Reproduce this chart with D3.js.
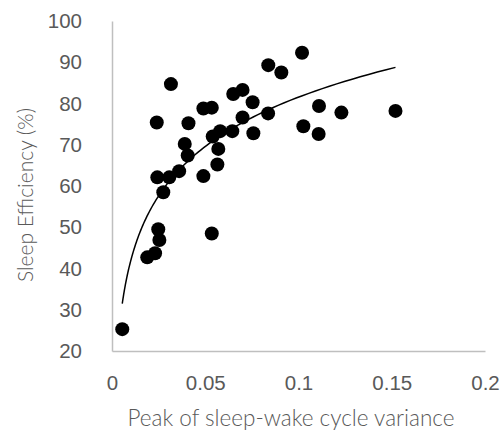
<!DOCTYPE html>
<html>
<head>
<meta charset="utf-8">
<script src="https://cdn.jsdelivr.net/npm/d3@7"></script>
<style>
  body { margin: 0; background: #fff; }
  svg { display: block; }
</style>
</head>
<body>
<div id="chart"></div>
<script>
// data
const variance = [0.0055, 0.0189, 0.0231, 0.0254, 0.0248, 0.0535, 0.0275, 0.0243, 0.0307, 0.036,
                  0.049, 0.0565, 0.0406, 0.039, 0.057, 0.054, 0.058, 0.0645, 0.0758, 0.070,
                  0.0837, 0.024, 0.041, 0.049, 0.0535, 0.0754, 0.065, 0.070, 0.0316, 0.0838,
                  0.0908, 0.1019, 0.1026, 0.1108, 0.111, 0.123, 0.152];
const efficiency = [25.3, 42.7, 43.7, 46.9, 49.5, 48.5, 58.5, 62.1, 62.1, 63.6,
                    62.4, 65.2, 67.4, 70.2, 69.0, 72.0, 73.3, 73.3, 72.8, 76.6,
                    77.6, 75.4, 75.2, 78.8, 79.0, 80.3, 82.3, 83.3, 84.7, 89.3,
                    87.5, 92.3, 74.5, 72.6, 79.4, 77.8, 78.2];
const xTicks = [0, 0.05, 0.1, 0.15, 0.2];
const yTicks = [20, 30, 40, 50, 60, 70, 80, 90, 100];

const width = 501, height = 431;
const margin = {top: 21, right: 16, bottom: 80, left: 112};

const svg = d3.select('#chart')
  .append('svg')
  .attr('width', width)
  .attr('height', height);

// scales
const x = d3.scaleLinear().domain([0, 0.2]).range([margin.left, width - margin.right]);
const y = d3.scaleLinear().domain([20, 100]).range([height - margin.bottom, margin.top]);

// axes - no tick marks, grey lines
const xAxis = svg.append('g')
  .attr('transform', `translate(0,${y(20)})`)
  .call(d3.axisBottom(x).tickValues(xTicks).tickSize(0).tickPadding(24).tickFormat(d => d));
const yAxis = svg.append('g')
  .attr('transform', `translate(${x(0)},0)`)
  .call(d3.axisLeft(y).tickValues(yTicks).tickSize(0).tickPadding(30).tickFormat(d => d));

[xAxis, yAxis].forEach(g => {
  g.select('.domain').attr('stroke', '#bfbfbf').attr('stroke-width', 1.5);
  g.selectAll('text')
    .attr('fill', '#595959')
    .style('font-family', '"Liberation Sans", Arial, sans-serif')
    .style('font-size', '20.5px');
});

// log trendline, least squares on ln(x) like Excel does
const pts = variance.map((v, i) => [v, efficiency[i]]);
const lx = pts.map(p => Math.log(p[0]));
const mx = d3.mean(lx), my = d3.mean(efficiency);
const slope = d3.sum(lx, (v, i) => (v - mx) * (efficiency[i] - my)) / d3.sum(lx, v => (v - mx) * (v - mx));
const intercept = my - slope * mx;
const [xmin, xmax] = d3.extent(variance);
const trend = d3.range(0, 101).map(i => {
  const xv = Math.exp(Math.log(xmin) + (Math.log(xmax) - Math.log(xmin)) * i / 100);
  return [xv, slope * Math.log(xv) + intercept];
});

svg.append('path')
  .datum(trend)
  .attr('fill', 'none')
  .attr('stroke', '#000')
  .attr('stroke-width', 1.5)
  .attr('d', d3.line().x(d => x(d[0])).y(d => y(d[1])));

// points
svg.append('g')
  .selectAll('circle')
  .data(pts)
  .join('circle')
  .attr('cx', d => x(d[0]))
  .attr('cy', d => y(d[1]))
  .attr('r', 7)
  .attr('fill', '#000');

// axis titles
svg.append('text')
  .attr('x', 291)
  .attr('y', 426)
  .attr('text-anchor', 'middle')
  .attr('fill', '#595959')
  .style('font-family', 'Lato, "Open Sans", sans-serif')
  .style('font-weight', 300)
  .style('font-size', '22.5px')
  .text('Peak of sleep-wake cycle variance');

svg.append('text')
  .attr('transform', 'translate(33,195) rotate(-90)')
  .attr('text-anchor', 'middle')
  .attr('fill', '#595959')
  .style('font-family', 'Lato, "Open Sans", sans-serif')
  .style('font-weight', 300)
  .style('font-size', '21px')
  .text('Sleep Efficiency (%)');
</script>
</body>
</html>
